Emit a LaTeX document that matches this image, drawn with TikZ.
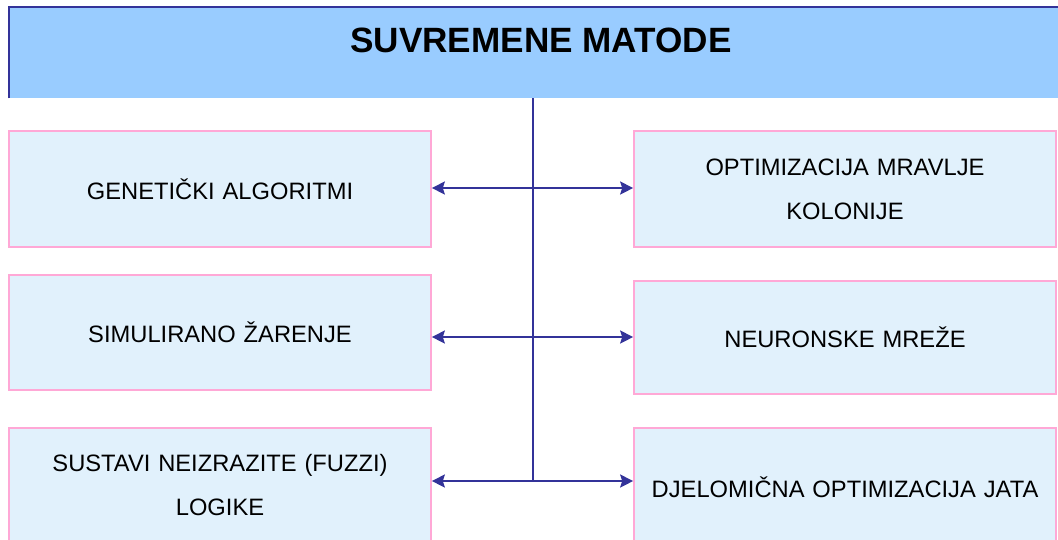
\documentclass[tikz,border=0pt]{standalone}
\usepackage{fontspec}
\setmainfont{Liberation Sans}
\usetikzlibrary{arrows.meta,positioning}
\definecolor{barblue}{HTML}{99CCFF}
\definecolor{lineblue}{HTML}{333399}
\definecolor{boxfill}{HTML}{E1F1FC}
\definecolor{boxpink}{HTML}{FFA8D6}

\tikzset{
  method/.style={draw=boxpink, line width=1pt, fill=boxfill, minimum width=8.44cm,
    align=center, text width=8.2cm, inner sep=0pt,
    font=\fontsize{13.5}{25}\selectfont},
  link/.style={draw=lineblue, line width=1.1pt},
  tip/.style={-{Stealth[length=0.26cm,width=0.26cm,inset=0.04cm]}}
}

\begin{document}
\begin{tikzpicture}[x=0.02cm,y=-0.02cm]
        \useasboundingbox (0,0) rectangle (1058,539);

        % Title bar
        \node[fill=barblue, minimum width=21.28cm, minimum height=1.82cm, inner sep=0pt] (bar) at (541,52.5) {};
        \draw[lineblue, line width=1.2pt] (bar.south west) -- (bar.north west) -- (bar.north east);
        \node[font=\fontsize{20}{24}\selectfont\bfseries] (title) at (541,40) {SUVREMENE MATODE};

        % Left boxes
        \node[method, minimum height=2.32cm] (gen) at (220,189) {GENETIČKI ALGORITMI};
        \node[method, minimum height=2.3cm] (sim) at (220,332.5) {SIMULIRANO ŽARENJE};
        \node[method, minimum height=2.28cm] (fuz) at (220,485) {SUSTAVI NEIZRAZITE (FUZZI)\\LOGIKE};

        % Right boxes
        \node[method, minimum height=2.32cm] (mrav) at (845,189) {OPTIMIZACIJA MRAVLJE\\KOLONIJE};
        \node[method, minimum height=2.26cm] (neur) at (845,337.5) {NEURONSKE MREŽE};
        \node[method, minimum height=2.36cm] (jata) at (845,487) {DJELOMIČNA OPTIMIZACIJA JATA};

        % Junctions on the trunk
        \coordinate (j1) at (533,188);
        \coordinate (j2) at (533,337);
        \coordinate (j3) at (533,481);

        % Trunk
        \draw[link] (bar.south -| j1) -- (j3);

        % Branches
        \draw[link, tip] (j1) -- (j1 -| gen.east);
        \draw[link, tip] (j1) -- (j1 -| mrav.west);
        \draw[link, tip] (j2) -- (j2 -| sim.east);
        \draw[link, tip] (j2) -- (j2 -| neur.west);
        \draw[link, tip] (j3) -- (j3 -| fuz.east);
        \draw[link, tip] (j3) -- (j3 -| jata.west);

    \end{tikzpicture}
\end{document}
